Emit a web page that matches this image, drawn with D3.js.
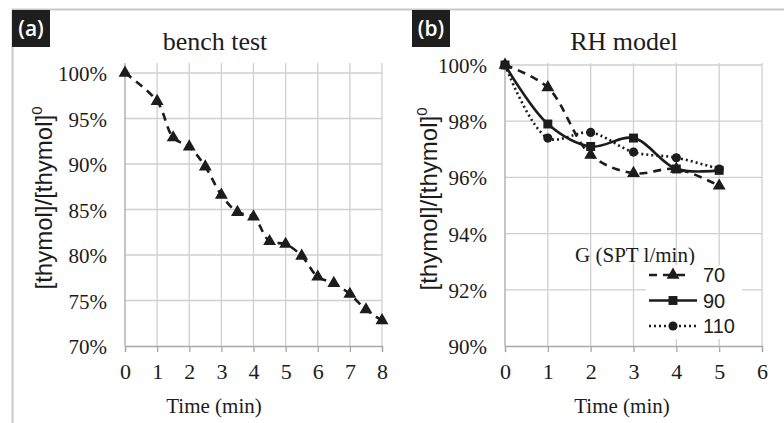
<!DOCTYPE html>
<html><head><meta charset="utf-8">
<script src="https://cdn.jsdelivr.net/npm/d3@7"></script>
<style>html,body{margin:0;padding:0;background:#fff;}svg{display:block;}</style>
</head><body>
<svg id="chart" width="784" height="423"></svg>
<script>
// ---- data ----
const benchTime  = [0, 1, 1.5, 2, 2.5, 3, 3.5, 4, 4.5, 5, 5.5, 6, 6.5, 7, 7.5, 8];
const benchValue = [100, 96.9, 92.9, 91.9, 89.7, 86.6, 84.7, 84.2, 81.5, 81.2, 79.9, 77.6, 76.9, 75.7, 74.0, 72.8];
const rhTime  = [0, 1, 2, 3, 4, 5];
const rh70  = [100, 99.2, 96.8, 96.15, 96.3, 95.7];
const rh90  = [100, 97.9, 97.1, 97.4, 96.3, 96.25];
const rh110 = [100, 97.4, 97.6, 96.9, 96.7, 96.3];
const seriesNames = ["70", "90", "110"];
const benchYTicks = [70, 75, 80, 85, 90, 95, 100];
const benchXTicks = [0, 1, 2, 3, 4, 5, 6, 7, 8];
const rhYTicks = [90, 92, 94, 96, 98, 100];
const rhXTicks = [0, 1, 2, 3, 4, 5, 6];
const panelTitles = ["bench test", "RH model"];
const panelTags = ["(a)", "(b)"];
const xTitle = "Time (min)";
const legendTitle = "G (SPT l/min)";

const svg = d3.select("#chart");
const GRID = "#cfcfcf", AXIS = "#a8a8a8", INK = "#1c1c1c";
const serif = "'Liberation Serif', 'Times New Roman', serif";
const sans = "'Liberation Sans', Arial, sans-serif";

// outer frame
svg.append("line").attr("x1", 12).attr("x2", 784).attr("y1", 9.5).attr("y2", 9.5).attr("stroke", "#c9c9c9").attr("stroke-width", 2);
svg.append("line").attr("x1", 12.5).attr("x2", 12.5).attr("y1", 9).attr("y2", 423).attr("stroke", "#c9c9c9").attr("stroke-width", 2);

function panel(cfg) {
  const x = d3.scaleLinear().domain(cfg.xDomain).range(cfg.xRange);
  const y = d3.scaleLinear().domain(cfg.yDomain).range(cfg.yRange);
  const g = svg.append("g");
  // vertical gridlines
  g.append("g").selectAll("line").data(cfg.xTicks.slice(1)).join("line")
    .attr("x1", d => x(d)).attr("x2", d => x(d))
    .attr("y1", cfg.gridTop).attr("y2", y(cfg.yDomain[0]))
    .attr("stroke", GRID).attr("stroke-width", 1.3);
  // horizontal gridlines
  g.append("g").selectAll("line").data(cfg.yTicks.slice(1)).join("line")
    .attr("x1", x(cfg.xDomain[0])).attr("x2", x(cfg.xDomain[1]))
    .attr("y1", d => y(d)).attr("y2", d => y(d))
    .attr("stroke", GRID).attr("stroke-width", 1.3);
  // y axis (line at left)
  g.append("line").attr("x1", x(cfg.xDomain[0])).attr("x2", x(cfg.xDomain[0]))
    .attr("y1", cfg.gridTop).attr("y2", y(cfg.yDomain[0])).attr("stroke", AXIS).attr("stroke-width", 1.3);
  // x axis using d3 axis
  const xAxis = d3.axisBottom(x).tickValues(cfg.xTicks).tickSize(6).tickPadding(11).tickFormat(d3.format("d"));
  const xa = g.append("g").attr("transform", `translate(0,${y(cfg.yDomain[0])})`).call(xAxis);
  xa.select(".domain").attr("stroke", AXIS).attr("stroke-width", 1.3);
  xa.selectAll(".tick line").attr("stroke", AXIS).attr("stroke-width", 1.3);
  xa.selectAll(".tick text").attr("font-family", serif).attr("font-size", 22).attr("fill", INK);
  // y axis labels
  const yAxis = d3.axisLeft(y).tickValues(cfg.yTicks).tickSize(0).tickPadding(18).tickFormat(d => d + "%");
  const ya = g.append("g").attr("transform", `translate(${x(cfg.xDomain[0])},0)`).call(yAxis);
  ya.select(".domain").remove();
  ya.selectAll(".tick text").attr("font-family", serif).attr("font-size", 21).attr("fill", INK).attr("dy", "0.36em");
  // y title
  const yt = g.append("text").attr("transform", `translate(${cfg.yTitleX},${cfg.yTitleY}) rotate(-90)`)
    .attr("text-anchor", "middle").attr("font-family", sans).attr("font-size", 24).attr("fill", INK);
  yt.append("tspan").text("[thymol]/[thymol]");
  yt.append("tspan").text("0").attr("font-size", 15).attr("dy", -10);
  // x title
  g.append("text").attr("x", cfg.xTitleX).attr("y", 413).attr("text-anchor", "middle")
    .attr("font-family", serif).attr("font-size", 21).attr("fill", INK).text(xTitle);
  // chart title
  g.append("text").attr("x", cfg.titleX).attr("y", 50).attr("text-anchor", "middle")
    .attr("font-family", serif).attr("font-size", 26).attr("fill", INK).text(cfg.title);
  // tag box
  g.append("rect").attr("x", cfg.tagX).attr("y", 10).attr("width", 38).attr("height", 37).attr("fill", "#1e1e1e");
  g.append("text").attr("x", cfg.tagX + 19).attr("y", 36).attr("text-anchor", "middle")
    .attr("font-family", "'Open Sans', sans-serif").attr("font-weight", 600).attr("font-size", 21).attr("fill", "#fff").text(cfg.tag);
  return {x, y, g};
}

const symTri = d3.symbol(d3.symbolTriangle, 72);
const symSq = d3.symbol(d3.symbolSquare, 80);
const symCir = d3.symbol(d3.symbolCircle, 66);

// ---- panel (a) ----
const A = panel({xDomain: [0, 8], xRange: [125, 382], yDomain: [70, 100], yRange: [346, 73], gridTop: 63,
  xTicks: benchXTicks, yTicks: benchYTicks, yTitleX: 52, yTitleY: 198, xTitleX: 214, titleX: 215,
  title: panelTitles[0], tag: panelTags[0], tagX: 12});
const benchData = benchTime.map((t, i) => [t, benchValue[i]]);
A.g.append("path").datum(benchData)
  .attr("d", d3.line().x(d => A.x(d[0])).y(d => A.y(d[1])).curve(d3.curveCatmullRom.alpha(0.5)))
  .attr("fill", "none").attr("stroke", INK).attr("stroke-width", 2.6).attr("stroke-dasharray", "8,6");
A.g.append("g").selectAll("path").data(benchData).join("path")
  .attr("transform", d => `translate(${A.x(d[0])},${A.y(d[1])})`).attr("d", symTri()).attr("fill", INK);

// ---- panel (b) ----
const B = panel({xDomain: [0, 6], xRange: [505, 762], yDomain: [90, 100], yRange: [346, 65], gridTop: 63,
  xTicks: rhXTicks, yTicks: rhYTicks, yTitleX: 437, yTitleY: 199, xTitleX: 622, titleX: 624,
  title: panelTitles[1], tag: panelTags[1], tagX: 412});

const rhSeries = [
  {name: seriesNames[0], vals: rh70, dash: "8,6", sym: symTri},
  {name: seriesNames[1], vals: rh90, dash: null, sym: symSq},
  {name: seriesNames[2], vals: rh110, dash: "2,3", sym: symCir}
];
const lineB = d3.line().x(d => B.x(d[0])).y(d => B.y(d[1])).curve(d3.curveCatmullRom.alpha(0.5));
rhSeries.forEach(s => {
  const data = rhTime.map((t, i) => [t, s.vals[i]]);
  B.g.append("path").datum(data).attr("d", lineB).attr("fill", "none").attr("stroke", INK)
    .attr("stroke-width", 2.6).attr("stroke-dasharray", s.dash);
});
rhSeries.forEach(s => {
  const data = rhTime.map((t, i) => [t, s.vals[i]]);
  B.g.append("g").selectAll("path").data(data).join("path")
    .attr("transform", d => `translate(${B.x(d[0])},${B.y(d[1])})`).attr("d", s.sym()).attr("fill", INK);
});

// legend
B.g.append("text").attr("x", 635).attr("y", 262).attr("text-anchor", "middle").attr("font-family", serif)
  .attr("font-size", 21).attr("fill", INK).text(legendTitle);
B.g.append("rect").attr("x", 646).attr("y", 265).attr("width", 96).attr("height", 74).attr("fill", "#fff");
const leg = B.g.append("g").selectAll("g").data(rhSeries).join("g")
  .attr("transform", (d, i) => `translate(0,${275 + i * 25.5})`);
leg.append("line").attr("x1", 649).attr("x2", d => d.name === "70" ? 690 : 697).attr("y1", 0).attr("y2", 0)
  .attr("stroke", INK).attr("stroke-width", 2.6).attr("stroke-dasharray", d => d.dash);
leg.append("path").attr("transform", "translate(673,0)").attr("d", d => d.sym()).attr("fill", INK);
leg.append("text").attr("x", 703).attr("y", 0).attr("dy", "0.36em").attr("font-family", sans)
  .attr("font-size", 20).attr("fill", INK).text(d => d.name);
</script>
</body></html>
